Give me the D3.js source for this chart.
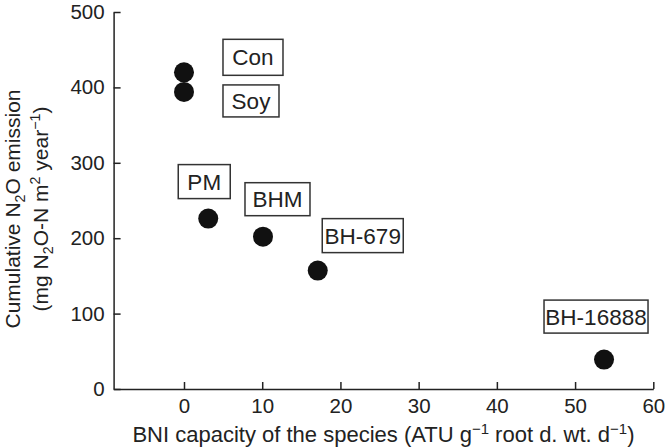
<!DOCTYPE html>
<head>
  <meta charset="utf-8">
  <script src="https://d3js.org/d3.v7.min.js"></script>
  <style>
    body { margin: 0; background: #fff; }
    svg { width: 666px; height: 448px; font-family: 'Liberation Sans', Arial, sans-serif; }
  </style>
</head>

<body>
  <svg></svg>

  <script>
    const width = 666;
    const height = 448;

    // species and their values
    const species = ['Con', 'Soy', 'PM', 'BHM', 'BH-679', 'BH-16888'];
    const bniCapacity = [0, 0, 3.1, 10.1, 17.1, 53.7];
    const n2oEmission = [420, 394, 226, 202, 157, 39];

    const xTicks = [0, 10, 20, 30, 40, 50, 60];
    const yTicks = [0, 100, 200, 300, 400, 500];

    // label box placement relative to its point (pixels)
    const labelBox = {
      'Con': { dx: 69, dy: -15, w: 60, h: 36 },
      'Soy': { dx: 67, dy: 9, w: 56, h: 32 },
      'PM': { dx: -4, dy: -37, w: 52, h: 34 },
      'BHM': { dx: 14.5, dy: -37.5, w: 65, h: 33 },
      'BH-679': { dx: 45, dy: -35, w: 81, h: 34 },
      'BH-16888': { dx: -8, dy: -43, w: 104, h: 33 },
    };

    const ink = '#222';
    const svg = d3.select('svg');

    const x = d3.scaleLinear().domain([-9, 60]).range([113.6, 653.3]);
    const y = d3.scaleLinear().domain([0, 500]).range([389, 12]);

    /*****************************************************
    ** axes
    ******************************************************/

    const xAxis = svg.append('g')
      .attr('transform', `translate(0,${y(0)})`)
      .call(d3.axisBottom(x).tickValues(xTicks).tickSizeInner(-7).tickSizeOuter(0).tickPadding(16));

    const yAxis = svg.append('g')
      .attr('transform', `translate(${x(-9)},0)`)
      .call(d3.axisLeft(y).tickValues(yTicks).tickSizeInner(-7).tickSizeOuter(0).tickPadding(16));

    [xAxis, yAxis].forEach(a => {
      a.select('.domain').attr('stroke', ink).attr('stroke-width', 1.5);
      a.selectAll('.tick line').attr('stroke', ink).attr('stroke-width', 1.5);
      a.selectAll('.tick text').attr('fill', ink).attr('font-size', 20.5);
    });
    yAxis.selectAll('.tick text').attr('x', -9);
    xAxis.selectAll('.tick text').attr('y', 9);

    // rich text helper for sub/superscripts
    function rich(sel, parts) {
      let prev = 0;
      parts.forEach(([str, kind]) => {
        const shift = kind === 'sub' ? 5 : kind === 'sup' ? -8 : 0;
        const t = sel.append('tspan').text(str);
        if (shift !== prev) t.attr('dy', shift - prev);
        if (kind) t.attr('font-size', '0.68em');
        prev = shift;
      });
    }

    const xTitle = svg.append('text')
      .attr('x', (x(-9) + x(60)) / 2)
      .attr('y', 442)
      .attr('text-anchor', 'middle')
      .attr('font-size', 22)
      .attr('fill', ink);
    rich(xTitle, [['BNI capacity of the species (ATU g'], ['\u22121', 'sup'], [' root d. wt. d'], ['\u22121', 'sup'], [')']]);

    const yTitle = svg.append('g')
      .attr('transform', 'translate(0,209) rotate(-90)')
      .attr('font-size', 21)
      .attr('fill', ink)
      .attr('text-anchor', 'middle');
    rich(yTitle.append('text').attr('y', 19.5), [['Cumulative N'], ['2', 'sub'], ['O emission']]);
    rich(yTitle.append('text').attr('y', 48),
      [['(mg N'], ['2', 'sub'], ['O-N m'], ['2', 'sup'], [' year'], ['\u22121', 'sup'], [')']]);

    /*****************************************************
    ** points and labels
    ******************************************************/

    const points = species.map((name, i) => ({ name, bni: bniCapacity[i], n2o: n2oEmission[i] }));

    svg.selectAll('circle')
      .data(points).enter().append('circle')
      .attr('cx', d => x(d.bni))
      .attr('cy', d => y(d.n2o))
      .attr('r', 10)
      .attr('fill', '#111');

    const labels = svg.selectAll('g.label')
      .data(points).enter().append('g')
      .attr('class', 'label')
      .attr('transform', d => {
        const b = labelBox[d.name];
        return `translate(${x(d.bni) + b.dx},${y(d.n2o) + b.dy})`;
      });

    labels.append('rect')
      .attr('x', d => -labelBox[d.name].w / 2)
      .attr('y', d => -labelBox[d.name].h / 2)
      .attr('width', d => labelBox[d.name].w)
      .attr('height', d => labelBox[d.name].h)
      .attr('fill', '#fff')
      .attr('stroke', '#333')
      .attr('stroke-width', 1.5);

    labels.append('text')
      .attr('text-anchor', 'middle')
      .attr('dy', '0.36em')
      .attr('font-size', 22.5)
      .attr('fill', ink)
      .text(d => d.name);
  </script>
</body>
